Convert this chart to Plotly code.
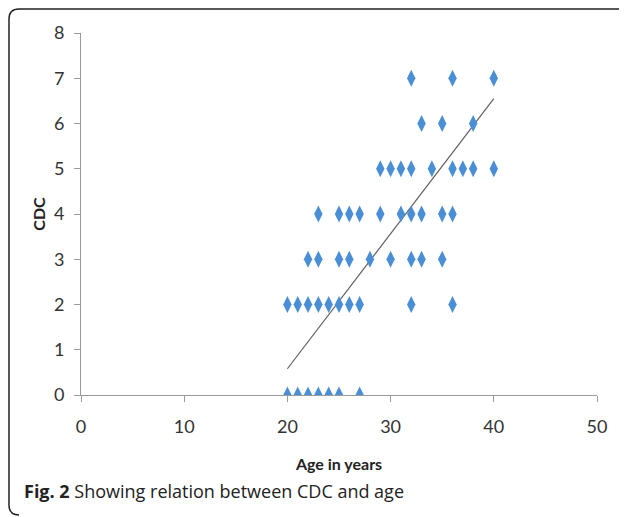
import plotly.graph_objects as go

# Age (x) and CDC (y) values
age = [20, 21, 22, 23, 24, 25, 27,
       20, 21, 22, 23, 24, 25, 26, 27, 32, 36,
       22, 23, 25, 26, 28, 30, 32, 33, 35,
       23, 25, 26, 27, 29, 31, 32, 33, 35, 36,
       29, 30, 31, 32, 34, 36, 37, 38, 40,
       33, 35, 38,
       32, 36, 40]
cdc = [0] * 7 + [2] * 10 + [3] * 9 + [4] * 10 + [5] * 9 + [6] * 3 + [7] * 3

# Linear trendline end points
trend_x = [20, 40]
trend_y = [0.58, 6.55]

x_ticks = [0, 10, 20, 30, 40, 50]
y_ticks = [0, 1, 2, 3, 4, 5, 6, 7, 8]

fig = go.Figure()
fig.add_trace(go.Scatter(
    x=trend_x, y=trend_y, mode="lines",
    line=dict(color="#5f5f5f", width=1.2), showlegend=False, hoverinfo="skip"))
fig.add_trace(go.Scatter(
    x=age, y=cdc, mode="markers",
    marker=dict(symbol="diamond-tall", size=12, color="#4A8FD6", line=dict(width=0)),
    showlegend=False))

# the page body adds an 8px offset; positions below are target pixels minus 8
OFF = 8
W, H = 627, 517
L, T = 81 - OFF, 33 - OFF
pw, ph = 516, 362
R, B = W - L - pw, H - T - ph

def px(x):
    return (x - OFF - L) / pw

def py(y):
    return (T + ph - (y - OFF)) / ph

left, top, bot, right = px(9), py(9), py(515), px(660)
rx, ry = 10 / pw, 10 / ph
path = (f"M {right},{top} L {left + rx},{top} Q {left},{top} {left},{top - ry} "
        f"L {left},{bot + ry} Q {left},{bot} {left + rx},{bot}")

fig.update_layout(
    width=W, height=H,
    margin=dict(l=L, r=R, t=T, b=B, autoexpand=False),
    paper_bgcolor="white", plot_bgcolor="white",
    font=dict(family="Lato, Open Sans, sans-serif", color="#333333"),
    xaxis=dict(range=[0, 50], tickvals=x_ticks, showgrid=False, zeroline=False,
               showline=True, linecolor="#9a9a9a", linewidth=1, automargin=False,
               ticks="outside", ticklen=6, tickcolor="#9a9a9a", ticklabelstandoff=9,
               tickfont=dict(size=18, color="#333333"),
               title=dict(text="<b>Age in years</b>", font=dict(size=16, color="#222222"), standoff=23)),
    yaxis=dict(range=[0, 8], tickvals=y_ticks, showgrid=False, zeroline=False,
               showline=True, linecolor="#9a9a9a", linewidth=1, automargin=False,
               ticks="outside", ticklen=6, tickcolor="#9a9a9a", ticklabelstandoff=6,
               tickfont=dict(size=18, color="#333333"),
               title=dict(text="<b>CDC</b>", font=dict(size=16, color="#222222"), standoff=4)),
    shapes=[dict(type="path", path=path, xref="paper", yref="paper",
                 line=dict(color="#222222", width=1.5))],
    annotations=[dict(text="<b>Fig. 2</b> Showing relation between CDC and age",
                      xref="paper", yref="paper", x=px(22), y=py(491),
                      xanchor="left", yanchor="middle", showarrow=False,
                      font=dict(family="Open Sans, sans-serif", size=18, color="#222222"))],
)

fig.write_html("out.html")
